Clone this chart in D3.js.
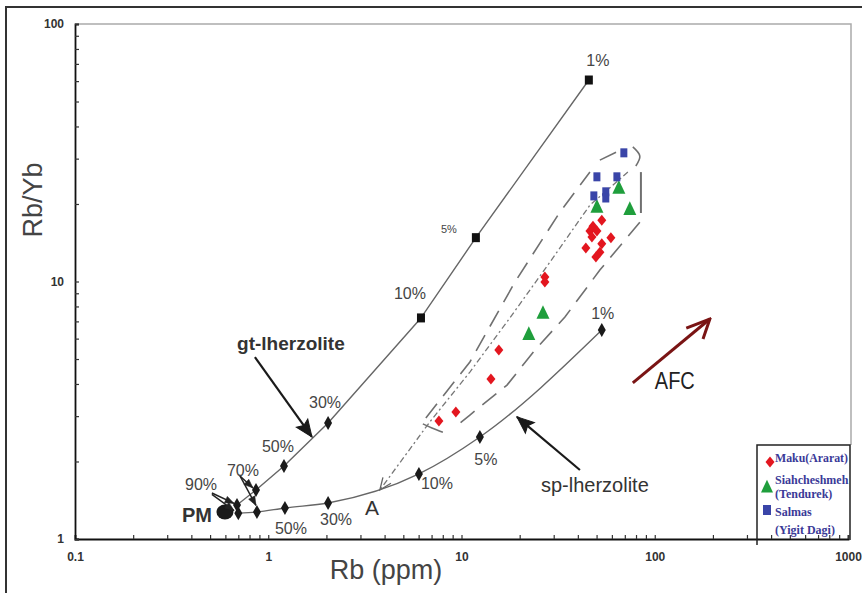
<!DOCTYPE html>
<html><head><meta charset="utf-8">
<script src="https://cdn.jsdelivr.net/npm/d3@7"></script>
<style>body{margin:0;background:#fff;} svg{display:block;}</style>
</head><body>
<svg id="chart" width="862" height="593"></svg>
<script>
// ---------- data ----------
const xTicks = [0.1, 1, 10, 100, 1000];
const xTickLabels = ["0.1", "1", "10", "100", "1000"];
const yTicks = [1, 10, 100];
const yTickLabels = ["1", "10", "100"];

// garnet lherzolite melting curve
const gtMelt = ["90%", "70%", "50%", "30%", "10%", "5%", "1%"];
const gtRb   = [0.689, 0.864, 1.206, 2.04, 6.17, 11.87, 45.6];
const gtRbYb = [1.355, 1.55, 1.92, 2.82, 7.22, 14.8, 60.6];
const gtShape = ["diamond", "diamond", "diamond", "diamond", "square", "square", "square"];

// spinel lherzolite melting curve
const spMelt = ["90%", "70%", "50%", "30%", "10%", "5%", "1%"];
const spRb   = [0.70, 0.874, 1.22, 2.04, 6.02, 12.45, 53.2];
const spRbYb = [1.26, 1.273, 1.32, 1.38, 1.79, 2.49, 6.48];

// primitive mantle
const pmRb = 0.597, pmRbYb = 1.273;

// samples
const makuRb   = [7.64, 9.35, 14.2, 15.6, 27.0, 27.0, 53.2, 47.9, 46.2, 50.2, 47.3, 59.3, 44.0, 53.2, 52.0, 49.6];
const makuRbYb = [2.87, 3.11, 4.18, 5.42, 9.95, 10.4, 17.3, 16.4, 15.7, 15.7, 14.9, 14.8, 13.5, 14.0, 13.0, 12.45];
const siahRb   = [22.3, 26.4, 50.2, 65.2, 74.3];
const siahRbYb = [6.25, 7.55, 19.5, 23.1, 19.1];
const salmasRb   = [69.2, 50.2, 63.7, 48.4, 55.8, 55.8];
const salmasRbYb = [31.6, 25.5, 25.5, 21.5, 22.3, 21.1];

// dashed envelope around the samples
const envUpperRb   = [6.54, 11.05, 18.9, 32.3, 46.2];
const envUpperRbYb = [2.95, 4.87, 9.95, 18.6, 26.6];
const envTopRb     = [52.0, 70.0];
const envTopRbYb   = [29.6, 33.0];
const envBracketRb   = [77.0, 83.7, 79.8];
const envBracketRbYb = [33.3, 30.7, 28.1];
const envRightRb   = [84.8, 84.8];
const envRightRbYb = [26.6, 18.45];
const envLowerRb   = [83.7, 52.0, 34.3, 24.0, 17.2, 11.05, 9.25];
const envLowerRbYb = [17.0, 11.08, 7.28, 5.42, 3.96, 3.03, 2.72];
const envTailRb    = [6.31, 7.03, 8.01];
const envTailRbYb  = [2.80, 2.70, 2.60];

// fine dashed trend line towards point A
const trendRb   = [72.6, 46.2, 28.7, 17.8, 11.05, 6.86, 3.78];
const trendRbYb = [26.6, 19.8, 11.9, 7.22, 4.45, 2.85, 1.55];

// annotation arrows (data coordinates)
const gtArrowRb = [0.853, 1.683], gtArrowRbYb = [5.09, 2.49];
const spArrowRb = [41.0, 19.35], spArrowRbYb = [1.853, 2.98];
const afcArrowRb = [77.0, 192.8], afcArrowRbYb = [4.04, 7.15];
const p90ArrowsRb = [[0.511, 0.665], [0.511, 0.665]];
const p90ArrowsRbYb = [[1.509, 1.375], [1.49, 1.29]];
const p70ArrowsRb = [[0.714, 0.834], [0.714, 0.864]];
const p70ArrowsRbYb = [[1.757, 1.578], [1.757, 1.35]];

// text annotations
const notes = [
  {t: "gt-lherzolite", rb: 1.31, ry: 5.72, cls: "big b"},
  {t: "sp-lherzolite", rb: 49.0, ry: 1.62, cls: "big"},
  {t: "AFC", rb: 127, ry: 4.11, cls: "afc"},
  {t: "A", rb: 3.44, ry: 1.32, cls: "a"},
  {t: "PM", rb: 0.428, ry: 1.24, cls: "pm"},
  {t: "90%", rb: 0.449, ry: 1.635, cls: "pct"},
  {t: "70%", rb: 0.740, ry: 1.853, cls: "pct"}
];

const legendNames = [["Maku(Ararat)"], ["Siahcheshmeh", "(Tendurek)"], ["Salmas", "(Yigit Dagi)"]];

// ---------- layout ----------
const svg = d3.select("#chart");
const x = d3.scaleLog().domain([0.1, 1000]).range([75, 848]);
const y = d3.scaleLog().domain([1, 100]).range([539, 24]);

svg.append("style").text(`
  .pct{font-family:Arial,"Liberation Sans",sans-serif;font-size:16px;fill:#454545;}
  .pct.sm{font-size:11px;}
  .big{font-family:Arial,"Liberation Sans",sans-serif;font-size:20px;fill:#333;}
  .big.b{font-weight:bold;font-size:19px;}
  .afc{font-family:Arial,"Liberation Sans",sans-serif;font-size:24px;fill:#222;}
  .a{font-family:Arial,"Liberation Sans",sans-serif;font-size:21px;fill:#333;}
  .pm{font-family:Arial,"Liberation Sans",sans-serif;font-size:20px;font-weight:bold;fill:#333;}
  .tick text{font-family:Arial,"Liberation Sans",sans-serif;font-size:12px;font-weight:bold;fill:#333;}
  .leg{font-family:"Liberation Serif","Times New Roman",serif;font-size:12px;font-weight:bold;fill:#3a3a98;}
`);

// defs / markers
const defs = svg.append("defs");
function marker(id, path, color, fill, sw) {
  defs.append("marker").attr("id", id).attr("markerUnits", "userSpaceOnUse")
    .attr("viewBox", "-30 -15 32 30").attr("refX", 0).attr("refY", 0)
    .attr("markerWidth", 32).attr("markerHeight", 30).attr("orient", "auto")
    .append("path").attr("d", path)
    .attr("fill", fill ? color : "none").attr("stroke", color)
    .attr("stroke-width", sw).attr("stroke-linejoin", "miter");
}
marker("bigHead", "M0,0 L-17,-7 L-14,0 L-17,7 Z", "#1a1a1a", true, 1);
marker("smallHead", "M0,0 L-9,-3.5 L-9,3.5 Z", "#222", true, 0.5);
marker("openHead", "M-12,-5 L0,0 L-12,5", "#666", false, 1.3);
marker("afcHead", "M-24,-8 L0,0 L-18,11", "#7a1414", false, 3);

// outer border
svg.append("path").attr("d", "M6,593 L6,7 L862,7").attr("fill", "none")
  .attr("stroke", "#333").attr("stroke-width", 2);

// plot frame (top / right)
svg.append("path").attr("d", `M${x(0.1)},${y(100)} L851,${y(100)} L851,445`)
  .attr("fill", "none").attr("stroke", "#aaa").attr("stroke-width", 1.5);

// axes: minor ticks
const gx = svg.append("g").attr("transform", `translate(0,${y(1)})`)
  .call(d3.axisBottom(x).tickValues(x.ticks()).tickSize(-4).tickFormat(""));
const gy = svg.append("g").attr("transform", `translate(${x(0.1)},0)`)
  .call(d3.axisLeft(y).tickValues(y.ticks()).tickSize(-4).tickFormat(""));
[gx, gy].forEach(g => {
  g.select(".domain").attr("stroke", "#111").attr("stroke-width", 1.8);
  g.selectAll(".tick line").attr("stroke", "#333").attr("stroke-width", 1.2);
});
// axes: labels
const gxl = svg.append("g").attr("transform", `translate(0,${y(1)})`)
  .call(d3.axisBottom(x).tickValues(xTicks).tickSize(0).tickPadding(13)
    .tickFormat((d, i) => xTickLabels[i]));
const gyl = svg.append("g").attr("transform", `translate(${x(0.1)},0)`)
  .call(d3.axisLeft(y).tickValues(yTicks).tickSize(0).tickPadding(11)
    .tickFormat((d, i) => yTickLabels[i]));
[gxl, gyl].forEach(g => g.select(".domain").remove());

// axis titles
svg.append("text").attr("x", 386).attr("y", 579).attr("text-anchor", "middle")
  .style("font-family", "Arial,'Liberation Sans',sans-serif").style("font-size", "27px")
  .style("fill", "#444").text("Rb (ppm)");
svg.append("text").attr("transform", "translate(42,200) rotate(-90)").attr("text-anchor", "middle")
  .style("font-family", "Arial,'Liberation Sans',sans-serif").style("font-size", "27px")
  .style("fill", "#444").text("Rb/Yb");

// helpers
const zip = (a, b) => a.map((v, i) => [v, b[i]]);
const lineData = d3.line().x(d => x(d[0])).y(d => y(d[1]));
const curveData = d3.line().x(d => x(d[0])).y(d => y(d[1])).curve(d3.curveMonotoneX);
const smoothData = d3.line().x(d => x(d[0])).y(d => y(d[1])).curve(d3.curveCatmullRom.alpha(0.5));

// envelope
const envStyle = s => s.attr("fill", "none").attr("stroke", "#707070").attr("stroke-width", 1.6);
[[envUpperRb, envUpperRbYb], [envTopRb, envTopRbYb], [envLowerRb, envLowerRbYb]].forEach(([a, b]) => {
  svg.append("path").attr("d", lineData(zip(a, b))).call(envStyle).attr("stroke-dasharray", "18,10");
});
svg.append("path").attr("d", smoothData(zip(envBracketRb, envBracketRbYb))).call(envStyle);
svg.append("path").attr("d", lineData(zip(envRightRb, envRightRbYb))).call(envStyle).attr("stroke-width", 2);
svg.append("path").attr("d", smoothData(zip(envTailRb, envTailRbYb))).call(envStyle);

// trend line to A
svg.append("path").attr("d", lineData(zip(trendRb, trendRbYb)))
  .attr("fill", "none").attr("stroke", "#777").attr("stroke-width", 1.3)
  .attr("stroke-dasharray", "6,3,2,3").attr("marker-end", "url(#openHead)");

// melting curves
svg.append("path").attr("d", lineData(zip(gtRb, gtRbYb)))
  .attr("fill", "none").attr("stroke", "#666").attr("stroke-width", 1.4).attr("stroke-linejoin", "round");
svg.append("path").attr("d", curveData(zip(spRb, spRbYb)))
  .attr("fill", "none").attr("stroke", "#666").attr("stroke-width", 1.4);

// PM
svg.append("ellipse").attr("cx", x(pmRb)).attr("cy", y(pmRbYb)).attr("rx", 8.5).attr("ry", 7.5)
  .attr("fill", "#1a1a1a");

// curve markers
const diamond = (w, h) => `M0,${-h / 2} L${w / 2},0 L0,${h / 2} L${-w / 2},0 Z`;
gtRb.forEach((v, i) => {
  const g = svg.append("g").attr("transform", `translate(${x(v)},${y(gtRbYb[i])})`);
  if (gtShape[i] === "square") g.append("rect").attr("x", -4).attr("y", -4.5).attr("width", 8).attr("height", 9).attr("fill", "#111");
  else g.append("path").attr("d", diamond(8, 14)).attr("fill", "#1a1a1a");
});
spRb.forEach((v, i) => {
  svg.append("path").attr("transform", `translate(${x(v)},${y(spRbYb[i])})`)
    .attr("d", diamond(8, 14)).attr("fill", "#1a1a1a");
});

// curve labels (offsets in px)
const gtLabelOff = [null, null, [-6, -20], [-3, -21], [-11, -24], [-27, -9], [9, -20]];
const spLabelOff = [null, null, [6, 21], [8, 17], [18, 10], [6, 23], [1, -17]];
gtMelt.forEach((t, i) => {
  if (!gtLabelOff[i]) return;
  svg.append("text").attr("class", i === 5 ? "pct sm" : "pct")
    .attr("x", x(gtRb[i]) + gtLabelOff[i][0]).attr("y", y(gtRbYb[i]) + gtLabelOff[i][1])
    .attr("text-anchor", "middle").attr("dominant-baseline", "central").text(t);
});
spMelt.forEach((t, i) => {
  if (!spLabelOff[i]) return;
  svg.append("text").attr("class", "pct")
    .attr("x", x(spRb[i]) + spLabelOff[i][0]).attr("y", y(spRbYb[i]) + spLabelOff[i][1])
    .attr("text-anchor", "middle").attr("dominant-baseline", "central").text(t);
});

// small arrows for 90% / 70%
[[p90ArrowsRb, p90ArrowsRbYb], [p70ArrowsRb, p70ArrowsRbYb]].forEach(([A, B]) => {
  A.forEach((a, k) => {
    svg.append("path").attr("d", lineData(zip(a, B[k])))
      .attr("stroke", "#222").attr("stroke-width", 1.5).attr("fill", "none")
      .attr("marker-end", "url(#smallHead)");
  });
});

// big arrows
svg.append("path").attr("d", lineData(zip(gtArrowRb, gtArrowRbYb)))
  .attr("stroke", "#1a1a1a").attr("stroke-width", 2.2).attr("fill", "none").attr("marker-end", "url(#bigHead)");
svg.append("path").attr("d", lineData(zip(spArrowRb, spArrowRbYb)))
  .attr("stroke", "#1a1a1a").attr("stroke-width", 2.2).attr("fill", "none").attr("marker-end", "url(#bigHead)");
svg.append("path").attr("d", lineData(zip(afcArrowRb, afcArrowRbYb)))
  .attr("stroke", "#7a1414").attr("stroke-width", 3).attr("fill", "none").attr("marker-end", "url(#afcHead)");

// notes
notes.forEach(n => {
  const t = svg.append("text").attr("class", n.cls).attr("x", x(n.rb)).attr("y", y(n.ry))
    .attr("text-anchor", "middle").attr("dominant-baseline", "central").text(n.t);
  if (n.cls === "afc") t.attr("textLength", 40).attr("lengthAdjust", "spacingAndGlyphs");
});

// samples
const RED = "#e3161f", GREEN = "#1f9e3c", BLUE = "#3a45a8";
const triangle = s => `M0,${-s * 0.6} L${s / 2},${s * 0.45} L${-s / 2},${s * 0.45} Z`;
makuRb.forEach((v, i) => svg.append("path").attr("transform", `translate(${x(v)},${y(makuRbYb[i])})`)
  .attr("d", diamond(9, 11)).attr("fill", RED));
siahRb.forEach((v, i) => svg.append("path").attr("transform", `translate(${x(v)},${y(siahRbYb[i])})`)
  .attr("d", triangle(13)).attr("fill", GREEN));
salmasRb.forEach((v, i) => svg.append("rect").attr("x", x(v) - 3.5).attr("y", y(salmasRbYb[i]) - 4.5)
  .attr("width", 7).attr("height", 9).attr("fill", BLUE));

// legend
svg.append("path").attr("d", "M757,545 L757,445 L850,445 L850,540")
  .attr("fill", "none").attr("stroke", "#222").attr("stroke-width", 1.5);
const legY = [[458], [480, 494], [512, 530]];
legendNames.forEach((lines, i) => {
  lines.forEach((t, k) => {
    const el = svg.append("text").attr("class", "leg").attr("x", 775).attr("y", legY[i][k])
      .attr("dominant-baseline", "central").text(t);
    if (t === "Maku(Ararat)") el.attr("textLength", 73).attr("lengthAdjust", "spacingAndGlyphs");
  });
});
svg.append("path").attr("transform", "translate(770,462)").attr("d", diamond(9, 11)).attr("fill", RED);
svg.append("path").attr("transform", "translate(767,487)").attr("d", triangle(12)).attr("fill", GREEN);
svg.append("rect").attr("x", 763).attr("y", 505).attr("width", 8).attr("height", 10).attr("fill", BLUE);
</script>
</body></html>
